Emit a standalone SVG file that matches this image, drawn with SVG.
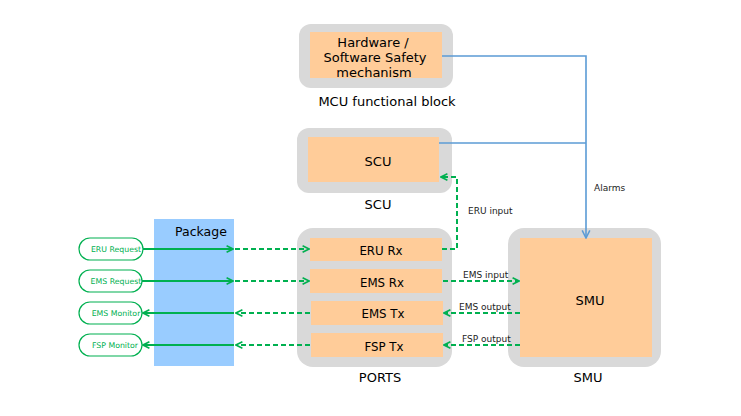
<svg xmlns="http://www.w3.org/2000/svg" width="741" height="416" viewBox="0 0 741 416">
<defs>
<marker id="ag" viewBox="0 0 10 10" refX="9" refY="5" markerWidth="4" markerHeight="4" orient="auto" markerUnits="strokeWidth">
<path d="M1,1 L9,5 L1,9" fill="none" stroke="#00B050" stroke-width="2"/>
</marker>
<marker id="ab" viewBox="0 0 10 10" refX="9" refY="5" markerWidth="6" markerHeight="6" orient="auto" markerUnits="strokeWidth">
<path d="M1,1 L9,5 L1,9" fill="none" stroke="#5B9BD5" stroke-width="1.6"/>
</marker>
</defs>
<style>
.outer{fill:#D9D9D9}
.inner{fill:#FFCC99}
.t{font-family:"DejaVu Sans","Open Sans",sans-serif;font-size:13px;fill:#000;text-anchor:middle}
.p{font-family:"DejaVu Sans","Open Sans",sans-serif;font-size:11.8px;fill:#000;text-anchor:middle}
.s{font-family:"DejaVu Sans","Open Sans",sans-serif;font-size:9px;fill:#222}
.pill{fill:#fff;stroke:#00B050;stroke-width:1.2}
.pt{font-family:"DejaVu Sans","Open Sans",sans-serif;font-size:7.8px;fill:#00B050;text-anchor:middle}
.gs{fill:none;stroke:#00B050;stroke-width:2}
.gd{fill:none;stroke:#00B050;stroke-width:2;stroke-dasharray:5,3}
.bl{fill:none;stroke:#5B9BD5;stroke-width:1.6}
</style>
<rect width="741" height="416" fill="#fff"/>
<g id="package">
<rect x="154" y="219" width="80" height="147" fill="#99CCFF"/>
<text x="201" y="236" class="t" style="font-size:12.5px">Package</text>
</g>
<g id="mcu">
<rect class="outer" x="299" y="24" width="154" height="64" rx="12"/>
<rect class="inner" x="310" y="32" width="132" height="46"/>
<text class="t" x="373" y="47">Hardware /</text>
<text class="t" x="375" y="62">Software Safety</text>
<text class="t" x="374" y="77">mechanism</text>
<text class="t" x="387" y="106">MCU functional block</text>
</g>
<g id="scu">
<rect class="outer" x="297" y="128" width="155" height="65" rx="12"/>
<rect class="inner" x="308" y="137" width="131" height="45"/>
<text class="t" x="378" y="166">SCU</text>
<text class="t" x="378" y="209">SCU</text>
</g>
<g id="ports">
<rect class="outer" x="297" y="228" width="155" height="139" rx="16"/>
<rect class="inner" x="310" y="238" width="132" height="23"/>
<rect class="inner" x="310" y="269" width="132" height="24"/>
<rect class="inner" x="311" y="301" width="132" height="24"/>
<rect class="inner" x="311" y="333" width="132" height="24"/>
<text class="p" x="381" y="255">ERU Rx</text>
<text class="p" x="382" y="287">EMS Rx</text>
<text class="p" x="383" y="318">EMS Tx</text>
<text class="p" x="384" y="351">FSP Tx</text>
<text class="t" x="380" y="382">PORTS</text>
</g>
<g id="smu">
<rect class="outer" x="508" y="228" width="153" height="139" rx="16"/>
<rect class="inner" x="520" y="238" width="132" height="119"/>
<text class="t" x="590" y="305">SMU</text>
<text class="t" x="588" y="382">SMU</text>
</g>
<g id="eru-request"><rect class="pill" x="79" y="238" width="64" height="22" rx="11"/><text class="pt" x="116" y="252">ERU Request</text></g>
<g id="ems-request"><rect class="pill" x="79" y="270" width="63" height="22" rx="11"/><text class="pt" x="116" y="284">EMS Request</text></g>
<g id="ems-monitor"><rect class="pill" x="79" y="302" width="63" height="22" rx="11"/><text class="pt" x="116" y="316">EMS Monitor</text></g>
<g id="fsp-monitor"><rect class="pill" x="79" y="334" width="63" height="22" rx="11"/><text class="pt" x="115" y="348">FSP Monitor</text></g>
<g id="connectors">
<path class="bl" d="M442,56 H586 V238" marker-end="url(#ab)"/>
<path class="bl" d="M439,143 H586"/>
<text class="s" x="594" y="191">Alarms</text>
<path class="gd" d="M442,249 H457 V177 H441" marker-end="url(#ag)"/>
<text class="s" x="468" y="214">ERU input</text>
<path class="gs" d="M143,249 H233" marker-end="url(#ag)"/>
<path class="gd" d="M235,249 H309" marker-end="url(#ag)"/>
<path class="gs" d="M142,281 H233" marker-end="url(#ag)"/>
<path class="gd" d="M235,281 H309" marker-end="url(#ag)"/>
<path class="gd" d="M310,313 H236" marker-end="url(#ag)"/>
<path class="gs" d="M234,313 H143" marker-end="url(#ag)"/>
<path class="gd" d="M310,345 H236" marker-end="url(#ag)"/>
<path class="gs" d="M234,345 H143" marker-end="url(#ag)"/>
<path class="gd" d="M443,281 H519" marker-end="url(#ag)"/>
<text class="s" x="463" y="278">EMS input</text>
<path class="gd" d="M520,313 H444" marker-end="url(#ag)"/>
<text class="s" x="459" y="310">EMS output</text>
<path class="gd" d="M520,345 H444" marker-end="url(#ag)"/>
<text class="s" x="462" y="342">FSP output</text>
</g>
</svg>
